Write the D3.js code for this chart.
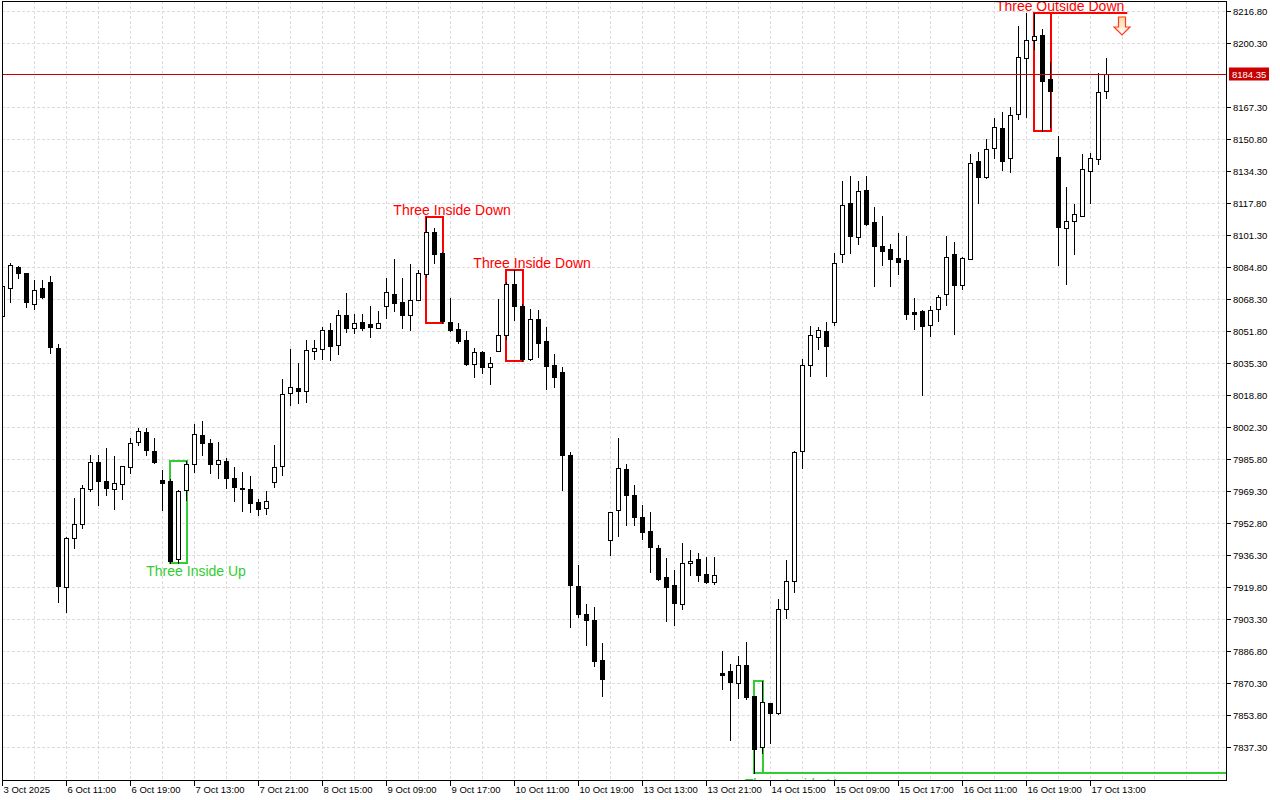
<!DOCTYPE html>
<html><head><meta charset="utf-8">
<script src="https://cdn.jsdelivr.net/npm/d3@7"></script>
<style>html,body{margin:0;padding:0;background:#fff;overflow:hidden}svg{display:block}</style>
</head><body>
<svg id="chart" width="1280" height="800"></svg>
<script>
// ---------- DATA ----------
const timeLabels = ["3 Oct 2025","6 Oct 11:00","6 Oct 19:00","7 Oct 13:00","7 Oct 21:00","8 Oct 15:00","9 Oct 09:00","9 Oct 17:00","10 Oct 11:00","10 Oct 19:00","13 Oct 13:00","13 Oct 21:00","14 Oct 15:00","15 Oct 09:00","15 Oct 17:00","16 Oct 11:00","16 Oct 19:00","17 Oct 13:00"];
const timeLabelBar = [0,8,16,24,32,40,48,56,64,72,80,88,96,104,112,120,128,136];

const open = [8059.6,8074.3,8084.9,8081.7,8066.0,8073.9,8077.0,8043.3,7920.2,7945.2,
7952.4,7970.5,7984.5,7974.8,7970.5,7973.1,7981.9,7994.8,7999.9,7990.3,
7975.3,7974.8,7934.2,7970.0,7983.6,7998.5,7994.3,7983.4,7985.0,7976.2,
7971.0,7970.5,7963.8,7960.7,7974.0,7982.2,8020.1,8022.7,8020.9,8041.6,
8042.8,8052.3,8044.9,8060.4,8053.6,8056.5,8055.7,8053.6,8064.8,8071.2,
8067.1,8060.2,8068.1,8081.5,8103.2,8092.4,8056.7,8052.8,8047.5,8034.7,
8041.3,8033.5,8041.9,8049.8,8076.0,8064.6,8037.6,8057.9,8046.6,8034.2,
8030.7,7988.2,7920.6,7906.1,7903.0,7882.4,7944.3,7959.5,7981.0,7967.6,
7956.1,7949.0,7940.1,7925.1,7921.1,7911.1,7932.3,7934.5,7926.6,7922.3,
7875.5,7876.7,7870.7,7879.8,7863.8,7837.6,7860.0,7854.9,7908.6,7923.2,
7989.9,8034.2,8048.8,8051.9,8056.7,8091.5,8117.8,8100.6,8124.5,8107.9,
8095.6,8094.1,8089.8,8088.4,8061.5,8062.1,8055.0,8063.5,8071.2,8091.5,
8075.5,8089.3,8139.4,8131.6,8146.1,8156.5,8140.9,8163.8,8192.5,8202.0,
8204.7,8181.8,8141.7,8105.3,8108.7,8111.3,8134.5,8140.5,8175.5];
const high = [8077.0,8087.2,8085.4,8082.0,8078.1,8078.1,8080.1,8045.4,7945.5,7965.9,
7972.7,7988.2,7988.2,7991.7,7987.7,7982.4,7996.8,8002.0,8002.0,7996.8,
7980.5,7975.5,7969.8,7985.1,8004.1,8005.8,7996.3,7994.8,7986.7,7982.0,
7979.3,7977.0,7965.5,7969.4,7993.4,8027.3,8042.9,8035.6,8047.1,8047.1,
8053.8,8056.1,8062.6,8071.4,8060.9,8060.9,8064.8,8062.2,8079.5,8089.3,
8079.5,8086.7,8083.6,8110.6,8105.3,8092.5,8069.1,8056.2,8051.9,8043.3,
8041.5,8038.7,8068.3,8077.0,8083.4,8065.7,8063.1,8062.6,8053.8,8039.9,
8033.5,7989.4,7931.4,7911.3,7909.4,7891.3,7958.8,7996.8,7983.6,7972.7,
7962.4,7958.6,7941.4,7934.9,7928.8,7942.6,7939.2,7937.5,7935.4,7935.4,
7887.0,7880.3,7884.5,7891.6,7864.0,7871.5,7860.2,7913.9,7934.0,7990.2,
8037.3,8054.5,8054.0,8056.4,8092.0,8129.3,8131.8,8129.3,8131.8,8115.9,
8111.3,8096.7,8102.7,8100.9,8069.1,8062.6,8064.6,8070.3,8100.9,8097.8,
8090.0,8143.1,8144.5,8150.9,8161.7,8164.7,8167.5,8209.4,8215.9,8215.9,
8207.7,8190.5,8152.6,8126.2,8117.3,8143.1,8143.6,8184.9,8192.5];
const low = [8059.0,8066.9,8079.2,8064.5,8063.2,8068.9,8040.5,7912.2,7907.0,7940.1,
7950.4,7969.3,7962.4,7967.2,7960.0,7965.1,7978.8,7993.4,7987.9,7984.0,
7959.8,7932.3,7932.3,7964.6,7979.1,7987.9,7978.8,7976.2,7971.0,7964.1,
7958.9,7958.4,7956.9,7957.5,7971.3,7977.5,8014.0,8014.9,8015.2,8037.3,
8037.5,8036.9,8039.9,8051.4,8051.1,8052.4,8048.8,8053.3,8058.6,8062.2,
8053.4,8052.3,8067.8,8079.6,8087.2,8056.2,8052.2,8045.9,8034.6,8028.1,
8030.1,8024.4,8041.7,8047.6,8057.6,8036.6,8037.2,8038.3,8021.8,8023.0,
7970.2,7899.1,7904.7,7890.1,7879.4,7864.0,7936.6,7946.4,7951.7,7951.7,
7944.9,7927.5,7923.7,7902.2,7900.5,7908.7,7926.3,7922.8,7922.0,7921.6,
7867.3,7841.1,7862.6,7862.1,7823.9,7834.2,7839.7,7854.6,7903.9,7917.6,
7981.4,8028.7,8042.8,8028.7,8055.0,8087.5,8092.4,8096.6,8106.8,8075.1,
8086.0,8075.1,8081.2,8058.4,8052.8,8018.8,8049.3,8057.1,8065.3,8050.2,
8073.4,8088.9,8117.8,8131.1,8140.9,8135.0,8134.0,8161.2,8162.4,8197.3,
8155.2,8156.9,8085.8,8076.0,8091.5,8111.0,8117.7,8138.0,8172.0];
const close = [8075.1,8085.8,8081.7,8066.9,8073.3,8069.4,8043.6,7920.7,7945.2,7952.4,
7971.0,7984.5,7974.4,7970.8,7973.6,7982.2,7994.3,8000.3,7990.7,7984.5,
7973.6,7933.6,7969.6,7983.4,7998.9,7994.3,7983.4,7985.5,7976.2,7971.5,
7970.3,7963.3,7960.2,7964.2,7981.8,8019.6,8023.1,8020.9,8042.3,8043.3,
8052.3,8044.1,8060.4,8053.6,8056.2,8053.6,8054.0,8056.2,8072.2,8066.6,
8060.2,8067.7,8082.0,8103.2,8091.8,8057.1,8052.4,8046.7,8034.9,8041.3,
8033.3,8035.6,8049.7,8076.0,8064.8,8037.6,8058.4,8045.9,8033.8,8028.1,
7987.9,7921.1,7906.1,7902.7,7882.0,7872.6,7958.6,7981.4,7967.6,7956.1,
7948.1,7940.4,7924.2,7920.2,7911.7,7932.3,7933.6,7926.3,7922.3,7925.9,
7874.6,7871.2,7879.8,7863.4,7836.3,7860.9,7855.2,7908.6,7923.2,7989.6,
8034.2,8049.7,8052.3,8044.1,8086.8,8116.8,8100.9,8123.9,8107.0,8095.8,
8093.2,8088.9,8087.5,8060.5,8060.5,8054.5,8062.6,8069.4,8090.3,8075.6,
8089.8,8138.8,8131.6,8145.6,8156.9,8139.7,8163.4,8193.0,8202.0,8203.9,
8181.0,8175.8,8105.6,8108.7,8112.1,8135.4,8140.9,8175.0,8184.35];

const priceTicks = [8216.80,8200.30,8167.30,8150.80,8134.30,8117.80,8101.30,8084.80,8068.30,8051.80,8035.30,8018.80,8002.30,7985.80,7969.30,7952.80,7936.30,7919.80,7903.30,7886.80,7870.30,7853.80,7837.30];
const lastPrice = 8184.35;

const patternNames = ["Three Inside Up","Three Inside Down","Three Inside Down","Three Inside Up","Three Outside Down"];
const patternFirst = [21,53,63,94,129];
const patternLast  = [23,55,65,95,131];
const patternBullish = [true,false,false,true,false];
const patternLabelBar = [24.2,56.2,66.2,99.0,132.2];
const patternRayEnd = [null,null,null,153,140.6];
const signalArrowBar = 140;

// ---------- LAYOUT ----------
const L = 2, T = 1, R = 1226, B = 780;
const svg = d3.select("#chart");
const x = d3.scaleLinear().domain([0,153]).range([2.5, 2.5 + 8*153]);
const y = d3.scaleLinear().domain([7837.3, 8216.8]).range([747.3, 11.3]);
const px = v => Math.round(v - 0.5) + 0.5;
const font = "'Liberation Sans', Arial, sans-serif";

svg.append("rect").attr("width",1280).attr("height",800).attr("fill","#fff");
const defs = svg.append("defs");
defs.append("clipPath").attr("id","plot").append("rect")
  .attr("x",L+1).attr("y",T+1).attr("width",R-L-1).attr("height",B-T-1);

const plot = svg.append("g").attr("clip-path","url(#plot)");

// grid
const vGrid = d3.range(4,153,4);
plot.selectAll(".vg").data(vGrid).join("line")
  .attr("x1",d=>px(x(d))).attr("x2",d=>px(x(d))).attr("y1",T).attr("y2",B)
  .attr("stroke","#dcdcdc").attr("stroke-dasharray","3,2");
plot.selectAll(".hg").data(priceTicks).join("line")
  .attr("x1",L).attr("x2",R).attr("y1",d=>px(y(d))).attr("y2",d=>px(y(d)))
  .attr("stroke","#dcdcdc").attr("stroke-dasharray","3,2");

// pattern boxes
const idx = d3.range(open.length);
patternNames.forEach((name,p)=>{
  const a = patternFirst[p], b = patternLast[p];
  const hi = d3.max(d3.range(a,b+1), i=>high[i]);
  const lo = d3.min(d3.range(a,b+1), i=>low[i]);
  const col = patternBullish[p] ? "#32cd32" : "#ff0000";
  const x0 = x(a)-0.5, x1 = x(b)+0.5, y0 = Math.round(y(hi)), y1 = Math.round(y(lo));
  plot.append("rect").attr("x",x0).attr("y",y0).attr("width",x1-x0).attr("height",y1-y0)
    .attr("fill","none").attr("stroke",col).attr("stroke-width",2);
  if (patternRayEnd[p] !== null) {
    const ry = patternBullish[p] ? y1 : y0;
    plot.append("line").attr("x1",x0).attr("x2",x(patternRayEnd[p])).attr("y1",ry).attr("y2",ry)
      .attr("stroke",col).attr("stroke-width",2);
  }
  plot.append("text").attr("x",x(patternLabelBar[p]))
    .attr("y", patternBullish[p] ? y1 + 13 + (y1 > 700 ? 2.5 : 0) : y0 - 2.5)
    .attr("text-anchor","middle").attr("font-family",font).attr("font-size",14)
    .attr("fill", col).text(name);
});

// candles
const cg = plot.append("g");
idx.forEach(i=>{
  const cx = x(i);
  const bull = close[i] >= open[i];
  cg.append("line").attr("x1",cx).attr("x2",cx)
    .attr("y1",Math.round(y(high[i]))).attr("y2",Math.round(y(low[i]))+1)
    .attr("stroke","#000").attr("stroke-width",1);
  const top = Math.round(y(Math.max(open[i],close[i])));
  const bot = Math.round(y(Math.min(open[i],close[i])));
  cg.append("rect").attr("x",cx-2).attr("y",top+0.5).attr("width",4).attr("height",Math.max(bot-top,0))
    .attr("fill", bull ? "#fff" : "#000").attr("stroke","#000").attr("stroke-width",1);
});

// signal arrow
{
  const p = 4;
  const hi = d3.max(d3.range(patternFirst[p],patternLast[p]+1), i=>high[i]);
  const cx = x(signalArrowBar) - 0.5, ty = Math.round(y(hi)) + 4;
  const pts = [[cx-3.5,ty],[cx+3.5,ty],[cx+3.5,ty+10],[cx+8,ty+10],[cx,ty+18],[cx-8,ty+10],[cx-3.5,ty+10]];
  const grad = defs.append("linearGradient").attr("id","ag").attr("x1",0).attr("x2",0).attr("y1",0).attr("y2",1);
  grad.append("stop").attr("offset","0%").attr("stop-color","#ffd9a0");
  grad.append("stop").attr("offset","100%").attr("stop-color","#ffffff");
  plot.append("path").attr("d","M"+pts.map(q=>q.join(",")).join("L")+"Z")
    .attr("fill","url(#ag)").attr("stroke","#ff3a1a").attr("stroke-width",1.2);
}

// last price line
const ly = px(y(lastPrice));
plot.append("line").attr("x1",L).attr("x2",R).attr("y1",ly).attr("y2",ly).attr("stroke","#c80000");

// frame
svg.append("line").attr("x1",L+0.5).attr("x2",L+0.5).attr("y1",T).attr("y2",B+1).attr("stroke","#000");
svg.append("line").attr("x1",L).attr("x2",R+1).attr("y1",T+0.5).attr("y2",T+0.5).attr("stroke","#000");
svg.append("line").attr("x1",R+0.5).attr("x2",R+0.5).attr("y1",T).attr("y2",B+1).attr("stroke","#000");
svg.append("line").attr("x1",L).attr("x2",R+1).attr("y1",B+0.5).attr("y2",B+0.5).attr("stroke","#000");

// price axis
const pa = svg.append("g");
priceTicks.forEach(v=>{
  const yy = px(y(v));
  pa.append("line").attr("x1",R+1).attr("x2",R+5).attr("y1",yy).attr("y2",yy).attr("stroke","#000");
  pa.append("text").attr("x",R+7).attr("y",yy+3.5).attr("font-family",font).attr("font-size",9.5)
    .attr("fill","#000").text(v.toFixed(2));
});
pa.append("rect").attr("x",R+3).attr("y",ly-7).attr("width",40).attr("height",13).attr("fill","#c80000");
pa.append("text").attr("x",R+6).attr("y",ly+3.5).attr("font-family",font).attr("font-size",9.5)
  .attr("fill","#fff").text(lastPrice.toFixed(2));

// time axis
const ta = svg.append("g");
timeLabelBar.forEach((b,j)=>{
  const xx = x(b);
  ta.append("line").attr("x1",xx).attr("x2",xx).attr("y1",B+1).attr("y2",B+6).attr("stroke","#000");
  ta.append("text").attr("x",xx+1).attr("y",B+13).attr("font-family",font).attr("font-size",9.5)
    .attr("fill","#000").text(timeLabels[j]);
});
</script>
</body></html>
